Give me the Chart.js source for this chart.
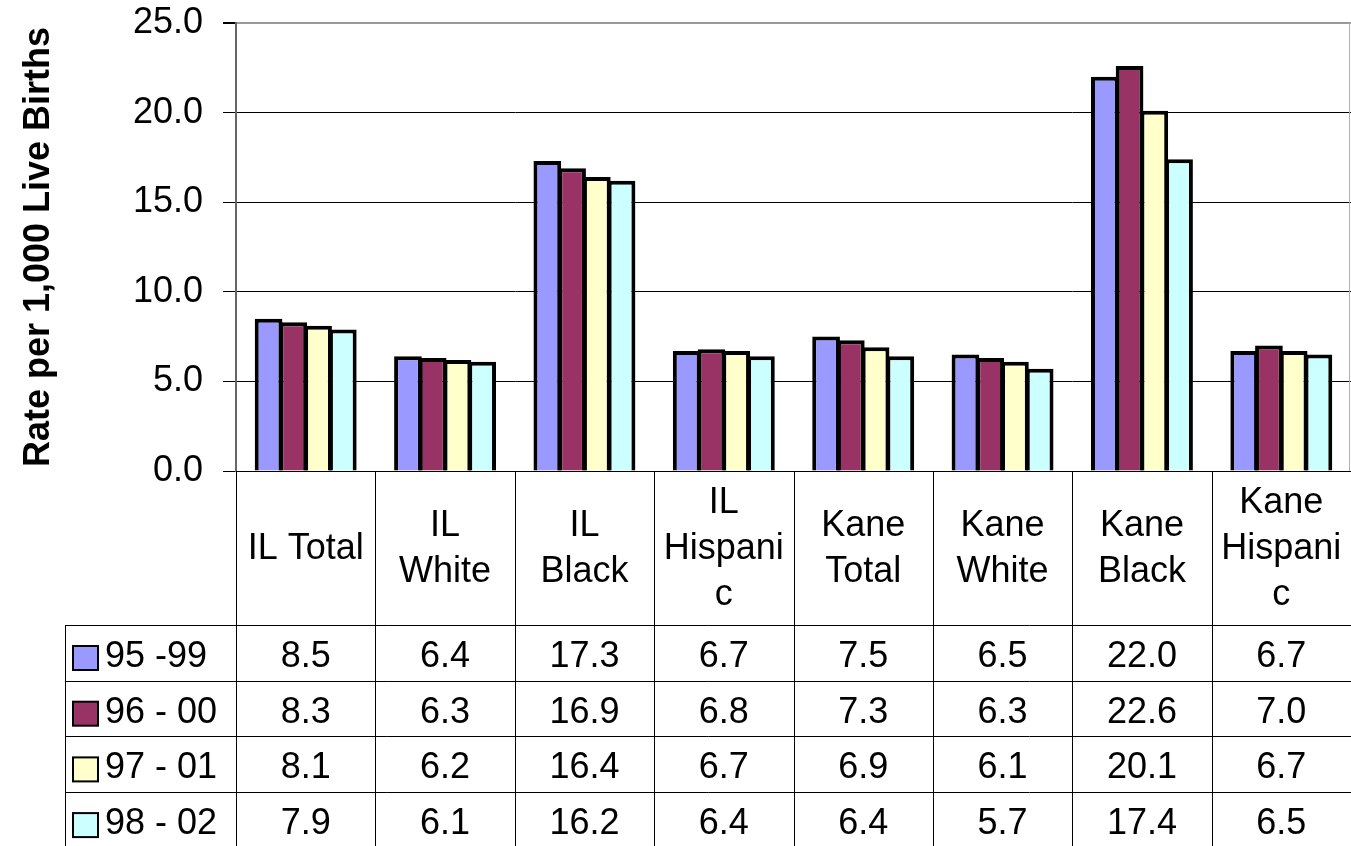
<!DOCTYPE html>
<html>
<head>
<meta charset="utf-8">
<script src="https://cdn.jsdelivr.net/npm/chart.js@4.4.1/dist/chart.umd.min.js"></script>
<style>
    body { margin: 0; background: #fff; }
    canvas { display: block; }
</style>
</head>
<body>
<canvas id="rate-chart" width="1351" height="846"></canvas>
<script>
const categories = [
    ["IL Total"], ["IL", "White"], ["IL", "Black"], ["IL", "Hispani", "c"],
    ["Kane", "Total"], ["Kane", "White"], ["Kane", "Black"], ["Kane", "Hispani", "c"]
];
const seriesNames = ["95 -99", "96 - 00", "97 - 01", "98 - 02"];
const rates9599 = [8.5, 6.4, 17.3, 6.7, 7.5, 6.5, 22.0, 6.7];
const rates9600 = [8.3, 6.3, 16.9, 6.8, 7.3, 6.3, 22.6, 7.0];
const rates9701 = [8.1, 6.2, 16.4, 6.7, 6.9, 6.1, 20.1, 6.7];
const rates9802 = [7.9, 6.1, 16.2, 6.4, 6.4, 5.7, 17.4, 6.5];
const seriesColors = ["#9999FF", "#993366", "#FFFFCC", "#CCFFFF"];
const yTicks = [0, 5, 10, 15, 20, 25];

const FONT = "'Liberation Sans', Arial, sans-serif";
const allSeries = [rates9599, rates9600, rates9701, rates9802];

// data table under the plot, laid out from the x scale
const dataTablePlugin = {
    id: "dataTable",
    afterDraw(chart) {
        const ctx = chart.ctx;
        const xs = chart.scales.x;
        const area = chart.chartArea;
        const step = xs.getPixelForValue(1) - xs.getPixelForValue(0);
        const headerTop = area.bottom;
        const headerBottom = 625;
        const rowH = 55.7;
        const legendLeft = 65.5;
        const bottom = chart.height;

        ctx.save();
        ctx.strokeStyle = "#000";
        ctx.lineWidth = 1;

        // vertical lines at category boundaries
        for (let i = 0; i <= categories.length; i++) {
            const x = Math.round(xs.getPixelForValue(i) - step / 2) + 0.5;
            ctx.beginPath();
            ctx.moveTo(x, headerTop);
            ctx.lineTo(x, bottom);
            ctx.stroke();
        }
        ctx.beginPath();
        ctx.moveTo(legendLeft, headerBottom);
        ctx.lineTo(legendLeft, bottom);
        ctx.stroke();

        // horizontal row lines
        for (let r = 0; r < seriesNames.length; r++) {
            const y = Math.round(headerBottom + r * rowH) + 0.5;
            ctx.beginPath();
            ctx.moveTo(legendLeft, y);
            ctx.lineTo(area.right, y);
            ctx.stroke();
        }

        // right edge of plot area
        ctx.strokeStyle = "#b0b0b0";
        ctx.beginPath();
        ctx.moveTo(area.right - 1.5, area.top);
        ctx.lineTo(area.right - 1.5, area.bottom);
        ctx.stroke();

        ctx.fillStyle = "#000";
        ctx.font = "36px " + FONT;
        ctx.textAlign = "center";
        ctx.textBaseline = "middle";

        // header labels
        const headerMid = (headerTop + headerBottom) / 2 + 1;
        categories.forEach((lines, i) => {
            const cx = xs.getPixelForValue(i);
            const start = headerMid - (lines.length - 1) * 46 / 2;
            lines.forEach((line, j) => ctx.fillText(line, cx, start + j * 46));
        });

        // value rows with legend keys
        allSeries.forEach((values, r) => {
            const top = headerBottom + r * rowH;
            const ty = top + 32;
            values.forEach((v, i) => {
                ctx.fillText(v.toFixed(1), xs.getPixelForValue(i), ty);
            });

            ctx.fillStyle = seriesColors[r];
            ctx.fillRect(73, top + 21, 25, 24);
            ctx.strokeStyle = "#000";
            ctx.lineWidth = 2;
            ctx.strokeRect(73, top + 21, 25, 24);
            ctx.lineWidth = 1;

            ctx.fillStyle = "#000";
            ctx.textAlign = "left";
            ctx.fillText(seriesNames[r], 105, ty);
            ctx.textAlign = "center";
        });

        ctx.restore();
    }
};

function createChart() {
    const ctx = document.getElementById("rate-chart");

    new Chart(ctx, {
        type: "bar",
        data: {
            labels: categories,
            datasets: allSeries.map((values, i) => ({
                label: seriesNames[i],
                data: values,
                backgroundColor: seriesColors[i],
                borderColor: "#000",
                borderWidth: 4,
                barPercentage: 1.12,
                categoryPercentage: 0.71
            }))
        },
        options: {
            responsive: false,
            animation: false,
            layout: {
                padding: { top: 23, bottom: 375, left: 0, right: 0 }
            },
            plugins: {
                legend: { display: false },
                tooltip: { enabled: false }
            },
            scales: {
                x: {
                    display: false
                },
                y: {
                    min: 0,
                    max: 25,
                    afterFit: (scale) => {
                        scale.width = 236;
                        scale.paddingTop = 0;
                        scale.paddingBottom = 0;
                    },
                    afterBuildTicks: (scale) => {
                        scale.ticks = yTicks.map(v => ({ value: v }));
                    },
                    border: { display: true, color: "#666", width: 2 },
                    grid: {
                        color: (c) => c.tick && c.tick.value === 25 ? "#999" : "#000",
                        lineWidth: (c) => c.tick && c.tick.value === 25 ? 2 : 1,
                        tickLength: 13,
                        tickColor: "#000"
                    },
                    ticks: {
                        color: "#000",
                        padding: 20,
                        font: { family: FONT, size: 36 },
                        callback: (v) => Number(v).toFixed(1)
                    },
                    title: {
                        display: true,
                        text: "Rate per 1,000 Live Births",
                        color: "#000",
                        padding: { top: 17, bottom: 0 },
                        font: { family: FONT, size: 36, weight: "bold" }
                    }
                }
            }
        },
        plugins: [dataTablePlugin]
    });
}

createChart();
</script>
</body>
</html>
